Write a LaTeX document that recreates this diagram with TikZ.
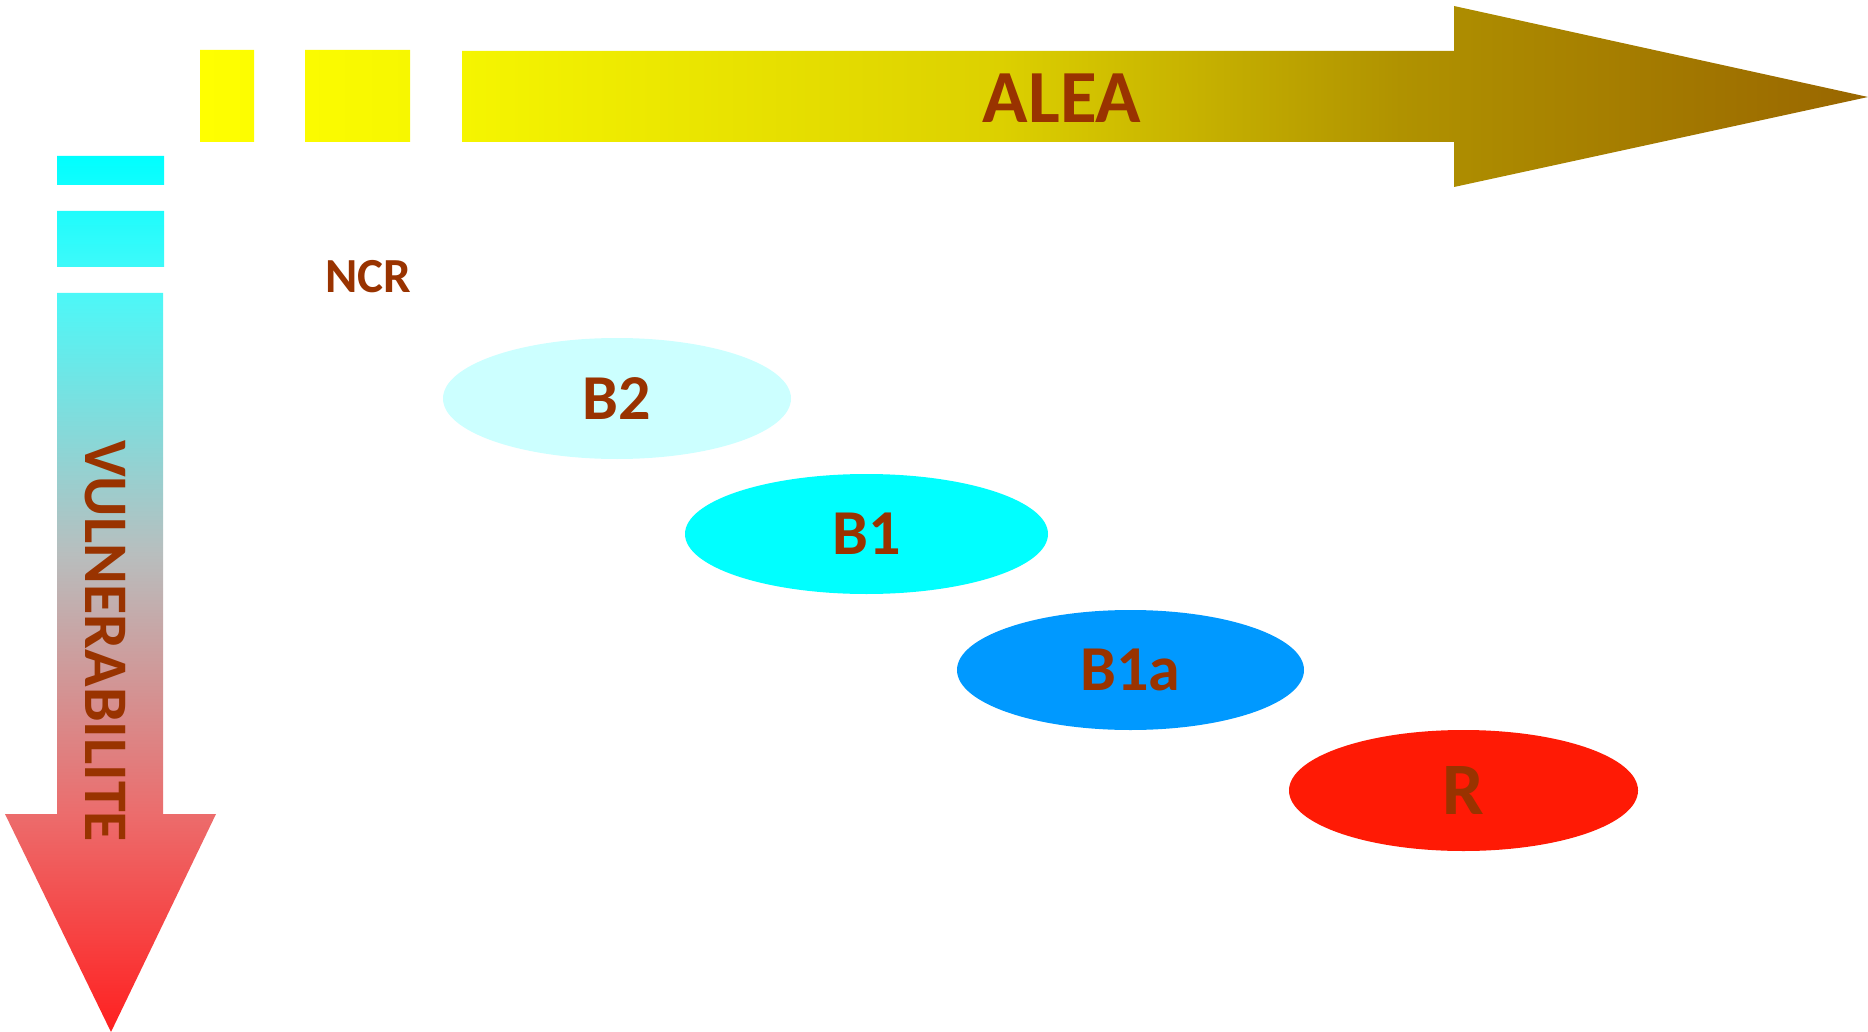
\documentclass[tikz,border=0pt]{standalone}
\usepackage{fontspec}
\setmainfont{Carlito}
\usetikzlibrary{shapes.geometric}
\definecolor{txt}{HTML}{993300}
\definecolor{vred}{HTML}{FF2020}
\definecolor{vpink}{HTML}{EC6C6C}
\definecolor{vgray}{HTML}{B8BEBE}
\definecolor{vcyanb}{HTML}{4CF8F8}
\definecolor{vcyan}{HTML}{00FFFF}
\definecolor{hy}{HTML}{FFFF00}
\definecolor{hy2}{HTML}{F5F500}
\definecolor{hm}{HTML}{DCD000}
\definecolor{hd}{HTML}{B09200}
\definecolor{hb}{HTML}{996600}
\definecolor{cB2}{HTML}{CCFFFF}
\definecolor{cB1}{HTML}{00FFFF}
\definecolor{cB1a}{HTML}{0099FF}
\definecolor{cR}{HTML}{FF1A05}
\pgfdeclareverticalshading{vulnshade}{100bp}{color(0bp)=(vred); color(25bp)=(vred); color(37.4bp)=(vpink); color(52.3bp)=(vgray); color(67.2bp)=(vcyanb); color(75bp)=(vcyan); color(100bp)=(vcyan)}
\pgfdeclarehorizontalshading{aleashade}{100bp}{color(0bp)=(hy); color(25bp)=(hy); color(32.9bp)=(hy2); color(49bp)=(hm); color(61bp)=(hd); color(75bp)=(hb); color(100bp)=(hb)}
\tikzset{
  lab/.style={text=txt, inner sep=0pt, font=\bfseries},
  blob/.style={ellipse, inner sep=0pt, draw=none, text=txt, font=\bfseries\fontsize{64}{70}\selectfont}
}
\begin{document}
\begin{tikzpicture}[x=1pt,y=-1pt]
\useasboundingbox (0,0) rectangle (1868,1032);
% horizontal ALEA arrow with two leading blocks
\path[shading=aleashade]
  (200,50) rectangle (254,142)
  (305,50) rectangle (410,142)
  (462,51) -- (1454,51) -- (1454,6) -- (1868,97) -- (1454,187) -- (1454,142) -- (462,142) -- cycle;
% vertical VULNERABILITE arrow with two leading blocks
\path[shading=vulnshade]
  (57,156) rectangle (164,185)
  (57,211) rectangle (164,267)
  (57,293) -- (163,293) -- (163,814) -- (216,814) -- (111,1032) -- (5,814) -- (57,814) -- cycle;
\node[lab, font=\bfseries\fontsize{75}{80}\selectfont] (alea) at (1062,98) {ALEA};
\node[lab, rotate=-90, font=\bfseries\fontsize{62}{68}\selectfont] (vuln) at (105.5,641) {VULNERABILITE};
\node[lab, font=\bfseries\fontsize{49}{54}\selectfont] (ncr) at (368,277) {NCR};
\node[blob, fill=cB2, minimum width=348pt, minimum height=121pt] (b2) at (617,398.5) {B2};
\node[blob, fill=cB1, minimum width=363pt, minimum height=120pt] (b1) at (866.5,534) {B1};
\node[blob, fill=cB1a, minimum width=347pt, minimum height=120pt] (b1a) at (1130.5,670) {B1a};
\node[blob, fill=cR, minimum width=349pt, minimum height=121pt, font=\bfseries\fontsize{74}{80}\selectfont] (r) at (1463.5,790.5) {R};
\end{tikzpicture}
\end{document}
